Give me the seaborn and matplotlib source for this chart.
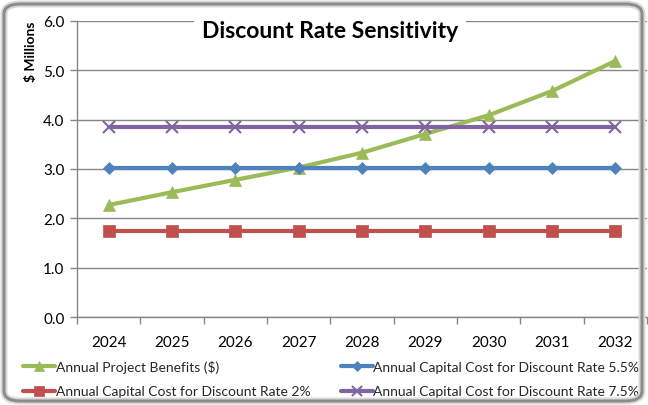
import matplotlib
matplotlib.use("Agg")
import matplotlib.pyplot as plt
import seaborn as sns
from matplotlib.patches import FancyBboxPatch
from matplotlib.ticker import FixedLocator

years = [2024, 2025, 2026, 2027, 2028, 2029, 2030, 2031, 2032]
benefits = [2.27, 2.53, 2.78, 3.03, 3.33, 3.71, 4.09, 4.58, 5.19]
cost_2 = [1.75] * 9
cost_55 = [3.02] * 9
cost_75 = [3.85] * 9
y_ticks = [0.0, 1.0, 2.0, 3.0, 4.0, 5.0, 6.0]

title = "Discount Rate Sensitivity"
ylabel = "$ Millions"
labels = ["Annual Project Benefits ($)",
          "Annual Capital Cost for Discount Rate 2%",
          "Annual Capital Cost for Discount Rate 5.5%",
          "Annual Capital Cost for Discount Rate 7.5%"]

sns.set_theme(style="white")
plt.rcParams['font.family'] = ['Lato', 'DejaVu Sans']

W, H = 648, 406
fig = plt.figure(figsize=(W / 100, H / 100), dpi=100)
fig.patch.set_facecolor("white")

# rounded frame
for lw, col in [(5, "#d9d9d9"), (2.2, "#8c8c8c")]:
    frame = FancyBboxPatch((4 / W, 4 / H), (W - 10) / W, (H - 9) / H,
                           boxstyle="round,pad=0,rounding_size=0.025",
                           transform=fig.transFigure, facecolor="none",
                           edgecolor=col, linewidth=lw, zorder=0)
    fig.patches.append(frame)

ax = fig.add_axes([77 / W, 1 - 318 / H, (647 - 77) / W, (318 - 22) / H])
ax.set_facecolor("none")

series = [
    (benefits, "#9BBB59", "^", 9, labels[0]),
    (cost_2, "#C0504D", "s", 8.5, labels[1]),
    (cost_55, "#4F81BD", "D", 6.5, labels[2]),
    (cost_75, "#8064A2", "x", 8, labels[3]),
]
order = [1, 2, 3, 0]
for idx in order:
    vals, col, mk, ms, lab = series[idx]
    sns.lineplot(x=years, y=vals, ax=ax, color=col, marker=mk, markersize=ms,
                 linewidth=3, markeredgecolor=col, markeredgewidth=1.5 if mk == "x" else 0.5,
                 label=lab, zorder=3 + idx)

ax.set_xlim(2023.5, 2032.5)
ax.set_ylim(0, 6)
ax.set_yticks(y_ticks)
ax.set_yticklabels([f"{v:.1f}" for v in y_ticks])
ax.set_xticks(years)
ax.set_xticklabels([str(y) for y in years])
ax.xaxis.set_minor_locator(FixedLocator([y + 0.5 for y in [2023] + years]))
ax.tick_params(axis="x", which="major", length=0, pad=13, labelsize=11, colors="#000000")
ax.tick_params(axis="x", which="minor", length=5, width=1, color="#868686", direction="out", bottom=True)
ax.tick_params(axis="y", which="major", length=5, width=1, color="#868686", direction="out",
               left=True, labelsize=11, colors="#000000", pad=4)
ax.grid(axis="y", color="#868686", linewidth=1)
ax.grid(axis="x", visible=False)
for s in ["top", "right"]:
    ax.spines[s].set_visible(False)
for s in ["left", "bottom"]:
    ax.spines[s].set_color("#868686")
    ax.spines[s].set_linewidth(1)
ax.set_xlabel("")
ax.set_ylabel("")

fig.text(31 / W, 1 - 52 / H, ylabel, rotation=90, ha="center", va="center",
         fontsize=10, fontweight="bold", color="black")

fig.text(330 / W, 1 - 32 / H, title, ha="center", va="center", fontsize=16.5,
         fontweight="bold", color="black",
         bbox=dict(facecolor="white", edgecolor="none", pad=6), zorder=10)

h, l = ax.get_legend_handles_labels()
mp = dict(zip(l, h))
leg_order = [labels[0], labels[1], labels[2], labels[3]]
ax.legend([mp[k] for k in leg_order], leg_order, ncol=2, frameon=False,
          loc="upper left", bbox_to_anchor=(16 / W, 1 - 354 / H),
          bbox_transform=fig.transFigure, fontsize=10, handlelength=2.3,
          handletextpad=0.05, columnspacing=2.2, labelspacing=0.9, borderpad=0,
          markerscale=0.85)

fig.savefig("out.png", dpi=100, facecolor="white")
